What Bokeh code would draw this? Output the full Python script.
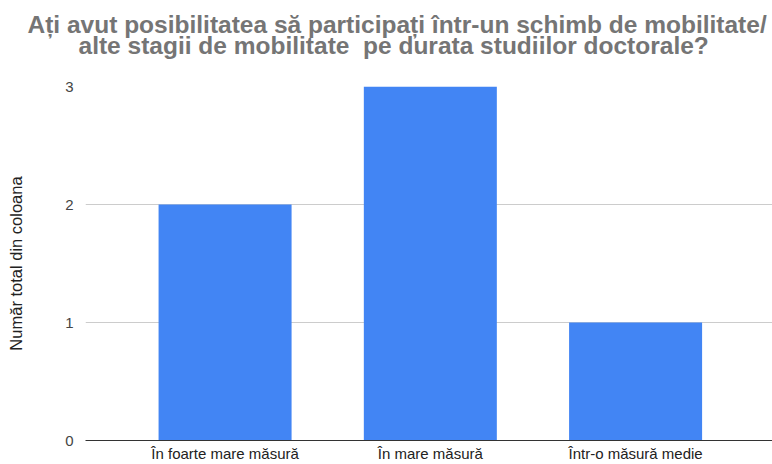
from bokeh.plotting import figure
from bokeh.models import ColumnDataSource, Title, FixedTicker, Range1d
from bokeh.embed import file_html
from bokeh.resources import INLINE

categories = ["În foarte mare măsură", "În mare măsură", "Într-o măsură medie"]
values = [2, 3, 1]
y_ticks = [0, 1, 2, 3]
title_lines = [
    "Ați avut posibilitatea să participați într-un schimb de mobilitate/",
    "alte stagii de mobilitate\u00a0 pe durata studiilor doctorale?",
]
y_label = "Număr total din coloana"

FONT = "Liberation Sans"
positions = list(range(len(categories)))
source = ColumnDataSource(dict(x=positions, top=values, cat=categories))

p = figure(
    width=772, height=464,
    x_range=Range1d(-0.68, 2.667), y_range=Range1d(0, 3),
    output_backend="svg", toolbar_location=None,
    min_border_left=85, min_border_right=0, min_border_top=86, min_border_bottom=23,
    outline_line_color=None, title=None,
)

p.vbar(x="x", top="top", width=0.648, source=source, fill_color="#4285F4", line_color=None)

# titles (first added is nearest the plot)
offsets = [-7, -58]
standoffs = [56, -72]
for line, off, so in zip(reversed(title_lines), offsets, standoffs):
    t = Title(text=line, align="left", offset=off, text_font=FONT, text_font_size="24.5px",
              text_font_style="bold", text_color="#757575", standoff=so)
    p.add_layout(t, "above")

# axes
p.xaxis.ticker = FixedTicker(ticks=positions)
p.xaxis.major_label_overrides = {i: c for i, c in enumerate(categories)}
p.xaxis.major_label_text_font = FONT
p.xaxis.major_label_text_font_size = "15px"
p.xaxis.major_label_text_color = "#222222"
p.xaxis.major_tick_line_color = None
p.xaxis.major_tick_out = 0
p.xaxis.major_tick_in = 0
p.xaxis.minor_tick_line_color = None
p.xaxis.minor_tick_out = 0
p.xaxis.axis_line_color = "#333333"
p.xaxis.major_label_standoff = 4

p.yaxis.ticker = FixedTicker(ticks=y_ticks)
p.yaxis.axis_label = y_label
p.yaxis.axis_label_text_font = FONT
p.yaxis.axis_label_text_font_size = "16.5px"
p.yaxis.axis_label_text_font_style = "normal"
p.yaxis.axis_label_text_color = "#222222"
p.yaxis.axis_label_standoff = 37
p.yaxis.major_label_text_font = FONT
p.yaxis.major_label_text_font_size = "15px"
p.yaxis.major_label_text_color = "#444444"
p.yaxis.major_tick_line_color = None
p.yaxis.major_tick_out = 0
p.yaxis.major_tick_in = 0
p.yaxis.minor_tick_line_color = None
p.yaxis.minor_tick_out = 0
p.yaxis.axis_line_color = None
p.yaxis.major_label_standoff = 12

p.xgrid.grid_line_color = None
p.ygrid.grid_line_color = "#cccccc"

open("out.html", "w").write(file_html(p, INLINE))
